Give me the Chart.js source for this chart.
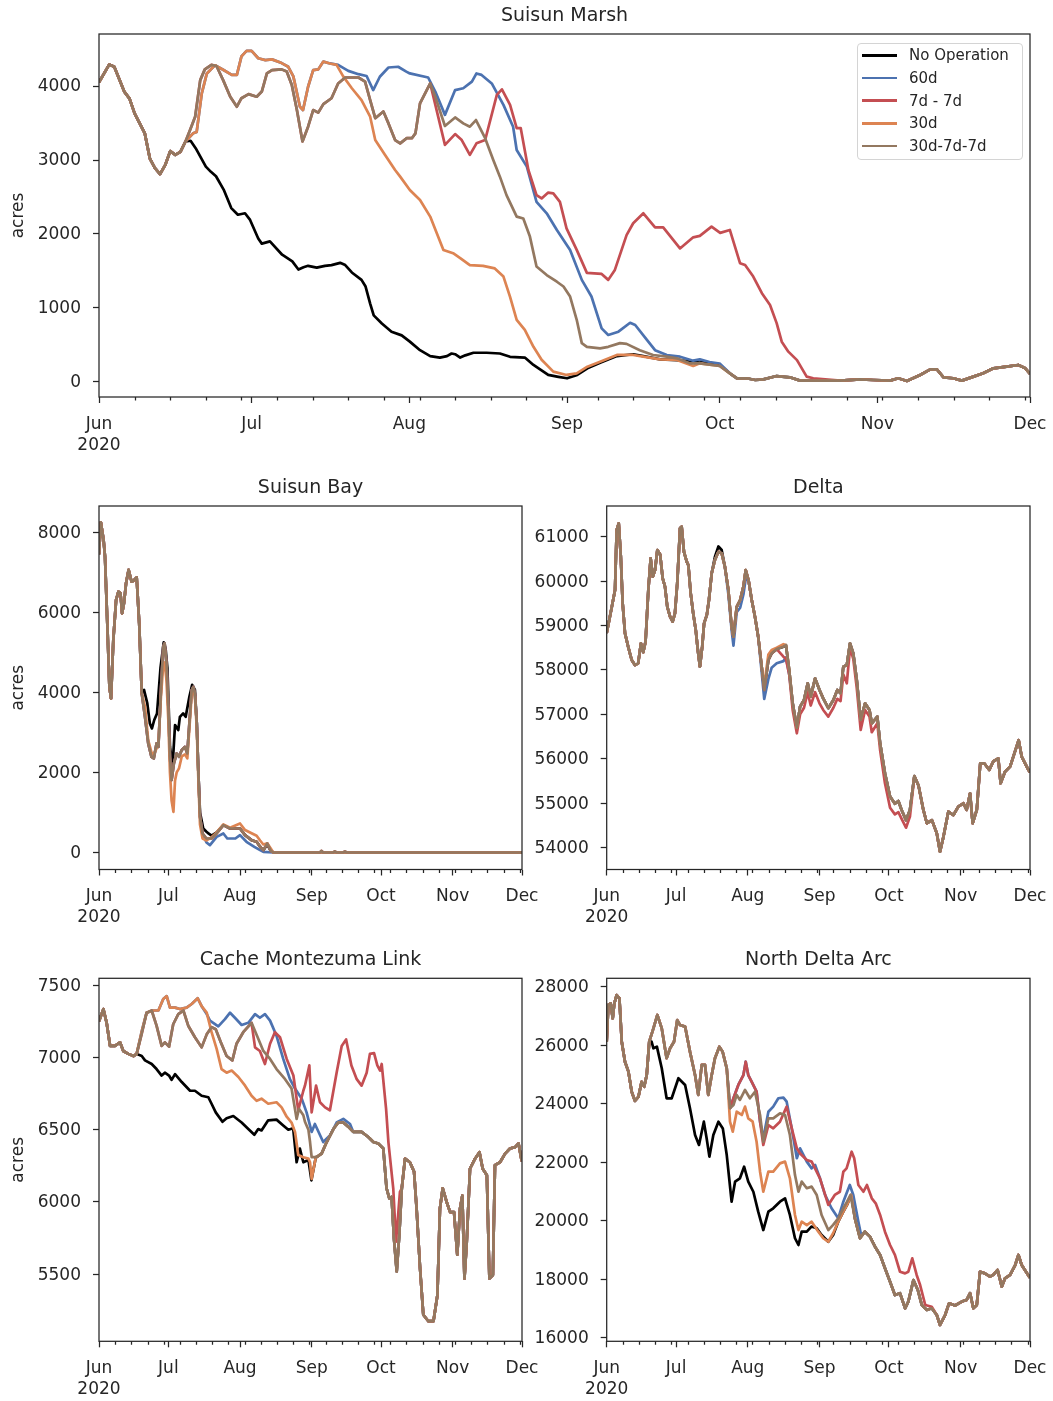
<!DOCTYPE html>
<html lang="en">
<head>
<meta charset="UTF-8">
<title>Habitat area by operation scenario</title>
<script src="https://cdn.jsdelivr.net/npm/chart.js"></script>
<style>
    body { margin: 0; background: #fff; font-family: 'DejaVu Sans', sans-serif; color: #262626; }
    #figure { position: relative; width: 1053px; height: 1401px; overflow: hidden; }
    #figure canvas { position: absolute; }
    #legend {
        position: absolute; left: 857px; top: 43px; width: 166px; height: 117px;
        box-sizing: border-box; border: 1px solid #d4d4d4; border-radius: 4px;
        background: rgba(255, 255, 255, 0.8); font-size: 15px;
    }
    #legend .row { height: 22.7px; display: flex; align-items: center; white-space: nowrap; }
    #legend .swatch { width: 35px; height: 2.7px; margin: 0 12px 0 4px; }
</style>
</head>
<body>
<div id="figure">
    <canvas id="marsh" width="1065" height="462" style="left:0;top:0"></canvas>
    <canvas id="bay" width="557" height="472" style="left:0;top:462px"></canvas>
    <canvas id="delta" width="540" height="472" style="left:525px;top:462px"></canvas>
    <canvas id="cache" width="557" height="467" style="left:0;top:934px"></canvas>
    <canvas id="arc" width="540" height="467" style="left:525px;top:934px"></canvas>
    <div id="legend"></div>
</div>
<script>
    // x = days since 1 Jun 2020
    const seriesNames = ['No Operation', '60d', '7d - 7d', '30d', '30d-7d-7d'];
    const seriesColors = ['#000000', '#4C72B0', '#C44E52', '#DD8452', '#937860'];
    const monthTicks = [0, 30, 61, 92, 122, 153, 183];
    const monthLabels = [['Jun', '2020'], 'Jul', 'Aug', 'Sep', 'Oct', 'Nov', 'Dec'];

    // ---- Suisun Marsh ----
    const marshTicks = [0, 1000, 2000, 3000, 4000];
    const marshHead = [[0,4050],[2,4290],[3,4260],[5,3920],[6,3830],[7,3630],[9,3360],[10,3020],[11,2890],[12,2810],[13,2930],[14,3120],[15,3070],[16,3110],[17,3250]];
    const marshTail = [[124,117],[125.4,50],[127.3,50],[129,27],[130.6,36],[133.2,80],[135.8,63],[137.8,18],[140.4,18],[145.7,18],[149.6,36],[152.2,27],[155.5,18],[157.1,50],[158.8,14],[161.4,95],[163.4,170],[164.7,170],[166,63],[167.9,50],[169.6,18],[171.9,72],[173.8,117],[175.8,185],[178.4,207],[180.7,230],[182,190],[183,110]];
    const marshNoOp = [[18,3260],[19,3160],[21,2910],[22,2840],[23,2780],[24.5,2600],[26,2350],[27.3,2260],[28.7,2280],[29.7,2190],[31.3,1940],[32,1870],[33.6,1900],[36,1720],[38,1630],[39.2,1520],[40.2,1550],[41.1,1570],[42.8,1545],[44.4,1570],[45.7,1580],[47.4,1610],[48.4,1580],[49.7,1480],[51.6,1380],[52.4,1290],[53.3,1060],[54,900],[55.6,790],[57.5,680],[59.5,630],[61.1,545],[63.1,430],[65.1,350],[67,330],[68.4,350],[69.3,385],[70,375],[71,330],[72,360],[73.6,395],[76.2,395],[78.8,385],[80.8,340],[83.7,330],[85.4,230],[86.7,170],[88.3,95],[90.3,70],[92,50],[94,95],[96,185],[98.5,260],[101.8,350],[105,375],[107,350],[110.3,305],[113.6,295],[116.8,275],[118.1,295],[120,250],[122,230]];
    const marsh30d = [[18.5,3360],[19.2,3380],[20.2,3900],[21.2,4170],[22.8,4280],[24.4,4220],[26.1,4150],[27.1,4150],[28,4400],[29,4475],[30,4475],[31.3,4375],[32.7,4350],[34,4360],[35.9,4310],[37.2,4260],[38.2,4130],[39.5,3720],[40.1,3675],[41.1,3990],[42.1,4215],[43.1,4225],[44.1,4330],[45.4,4305],[46.7,4285],[48,4130],[49.7,3970],[51.6,3810],[53.3,3585],[54.3,3270],[56.2,3070],[58.2,2865],[59.2,2775],[61.1,2595],[63.1,2460],[65.1,2235],[66.4,2010],[67.7,1785],[69.6,1740],[71,1675],[72.9,1580],[75.5,1570],[77.8,1535],[79.5,1425],[80.8,1150],[82.1,840],[83.7,705],[85.4,475],[87,300],[89.3,140],[91.9,95],[93.9,117],[96,207],[98.5,275],[101.8,365],[105,365],[107,342],[110.3,306],[113.6,297],[116.8,216],[118.1,252],[122,216]];
    const marsh30d7d7d = [[17.9,3405],[18.9,3585],[19.9,4080],[20.8,4225],[22.1,4285],[23.1,4270],[24.4,4080],[25.8,3855],[27.1,3720],[28,3835],[29.4,3890],[31,3855],[32,3925],[33,4170],[34,4215],[35.9,4225],[36.9,4195],[37.9,4015],[38.9,3675],[40,3250],[41.1,3450],[42.1,3675],[43.1,3640],[44.1,3755],[45.7,3835],[47,4035],[48.4,4115],[51,4115],[52.3,4060],[53.3,3810],[54.3,3565],[55.9,3655],[56.9,3495],[58.2,3270],[59.2,3225],[60.5,3295],[61.5,3295],[62.2,3360],[63.1,3765],[65.1,4035],[66.1,3855],[68,3460],[70,3575],[71.6,3495],[72.9,3450],[74.1,3540],[75.9,3295],[77.5,3000],[78.8,2775],[80.1,2525],[82.1,2235],[83.4,2210],[84.7,1965],[86,1560],[88,1445],[90,1355],[91.3,1290],[92.6,1155],[93.9,840],[94.9,525],[95.9,475],[98.5,455],[100.1,475],[102.4,525],[103.7,515],[106.3,430],[108.9,365],[111.6,342],[113.6,320],[116.1,252],[118.1,252],[122,216]];
    const marsh60d = [[47,4285],[49,4205],[51,4160],[52.6,4135],[53.9,3945],[55.2,4125],[56.9,4250],[58.8,4260],[60.4,4195],[61.1,4170],[64.7,4115],[66.1,3925],[68,3610],[70,3945],[71.6,3970],[73.3,4060],[74.2,4170],[75.2,4150],[77.2,4035],[79.5,3745],[81.4,3450],[82.1,3135],[84.1,2910],[86,2435],[88,2280],[90,2055],[92.6,1785],[94.9,1380],[96.8,1155],[98.8,725],[100.1,635],[102.1,680],[104.4,800],[105.4,770],[107.7,570],[109.3,430],[111.6,365],[114.2,342],[116.8,288],[118.1,306],[120,270],[122,250]];
    const marsh7d7d = [[68,3205],[70,3350],[71.3,3270],[72.9,3070],[74.2,3225],[75.9,3270],[78.2,3880],[79.2,3955],[80.8,3745],[82.1,3430],[82.9,3430],[84.4,2865],[86,2525],[87,2480],[88.3,2560],[89.3,2550],[90.6,2435],[91.9,2075],[93.9,1785],[95.9,1475],[98.8,1460],[100.1,1380],[101.4,1515],[103.7,1985],[105,2145],[107,2280],[109.3,2090],[110.9,2090],[114.2,1805],[116.8,1955],[118.1,1975],[120.4,2100],[122.1,2015],[124,2055],[126,1605],[127,1580],[128.6,1425],[130.3,1200],[131.9,1040],[133.2,795],[134.2,545],[135.5,410],[137.2,295],[139.1,72],[140.4,50]];

    // ---- Suisun Bay ----
    const bayTicks = [0, 2000, 4000, 6000, 8000];
    const bayHead = [[0,7450],[0.8,8250],[2,7800],[2.6,7390],[3.6,5725],[4.5,4140],[5.2,3850],[6.2,5310],[7.4,6310],[8.4,6515],[9.3,6480],[10,5975],[10.8,6225],[11.7,6725],[12.8,7060],[14.1,6765],[14.9,6790],[16.3,6875],[17.4,5725],[18.5,3975]];
    const bay30d7d7d = [[19.9,3390],[21.3,2725],[22.7,2390],[23.7,2350],[24.9,2725],[25.7,2640],[26.8,4060],[27.8,5140],[28.4,5225],[29.2,4725],[30,3640],[30.7,2390],[31.4,1810],[32.4,2225],[33.6,2475],[34.6,2390],[35.8,2560],[37.2,2640],[38.2,2475],[39.1,3225],[40.1,4060],[40.8,4140],[41.5,3975],[42.3,3225],[43,1975],[43.7,890],[44.8,475],[46.5,350],[48.7,350],[50.9,475],[53.8,683],[56.7,600],[61,600],[63.2,433],[66,308],[68.2,267],[69.7,142],[71.1,58],[72.8,225],[74.3,42],[75.4,0],[95.5,0],[96.3,40],[97,0],[101.3,0],[102,30],[102.8,0],[105.6,0],[106.4,25],[107.2,0],[183,0]];
    const bayNoOp = [[19.5,4060],[20.9,3725],[22,3225],[22.9,3100],[23.9,3310],[25.1,3475],[26.6,4610],[28,5250],[28.8,5100],[29.6,4600],[30.7,2650],[31.8,2140],[32.9,3185],[34.3,3060],[35,3390],[36.4,3475],[37.5,3390],[39.1,3890],[40.3,4190],[41.5,4060],[42.3,3225],[43,1975],[43.7,1000],[45.1,600],[46.5,520],[47.5,470],[48.7,420],[50.9,500],[53.8,683],[56.7,600],[61,600],[63.2,433],[66,308],[68.2,267],[69.7,142],[71.1,58],[72.8,200],[74.3,42],[75.4,0],[183,0]];
    const bay30d = [[19.9,3640],[21.3,2800],[22.7,2500],[23.7,2450],[24.9,2600],[25.7,2700],[26.8,3900],[27.8,4700],[28.4,4750],[29.2,4300],[30,3300],[30.7,2000],[31.4,1300],[32.2,1015],[32.9,1800],[33.6,2000],[34.6,2100],[35.8,2400],[37.2,2450],[38.2,2350],[39.1,3100],[40.1,3950],[40.8,4050],[41.5,3900],[42.3,3100],[43,1800],[43.7,700],[44.8,350],[46.5,300],[48.7,380],[50.9,500],[53.8,700],[56.7,620],[61,725],[63.2,560],[66,480],[68.2,420],[69.7,300],[71.1,200],[72.8,230],[74.3,100],[75.4,0],[183,0]];
    const bay60d = [[46.5,250],[48,183],[50.9,390],[53.8,475],[55.5,350],[59,350],[61,433],[63.8,267],[67.2,142],[69.7,58],[71.1,17],[75.4,0],[183,0]];

    // ---- Delta ----
    const deltaTicks = [54000, 55000, 56000, 57000, 58000, 59000, 60000, 61000];
    const delta30d7d7d = [[0,58830],[2.2,59420],[3.6,59800],[4.3,61150],[5.2,61300],[6.1,60550],[6.9,59500],[7.9,58830],[9.3,58520],[10.8,58225],[12.2,58110],[13.6,58150],[14.8,58600],[15.8,58400],[16.8,58640],[18,59800],[19,60510],[19.9,60100],[20.9,60250],[21.9,60700],[23.1,60600],[24.2,60060],[25.2,59875],[26.2,59420],[27.4,59200],[28.5,59090],[29.5,59275],[30.5,59950],[31.7,61190],[32.4,61225],[33.4,60660],[34.6,60440],[35.3,60360],[36.3,59730],[37.4,59275],[38.5,58900],[39.4,58450],[40.3,58075],[41.3,58525],[42.1,59050],[43.3,59240],[44.2,59575],[45.4,60180],[46.8,60475],[48.3,60660],[49.7,60625],[51.1,60325],[52.6,59800],[54,58975],[54.8,58750],[56.2,59420],[57.7,59575],[59.1,59875],[60.1,60250],[61.3,60025],[62.7,59575],[64.1,59200],[65.5,58750],[67,58075],[68.1,57550],[69.9,58225],[71.3,58375],[73.5,58470],[76.4,58525],[77.5,58560],[78.9,58000],[80.4,57250],[82.2,56700],[83.6,57175],[85.3,57325],[86.9,57700],[88.2,57400],[90.1,57810],[92,57550],[93.6,57360],[95.8,57140],[98,57325],[99.7,57550],[101.1,57475],[102.3,58075],[103.8,58110],[105.2,58600],[106.6,58375],[108.1,57775],[109.8,56875],[111.7,57250],[113.6,57100],[114.6,56800],[117,56950],[118.2,56350],[120.3,55675],[122.5,55150],[124.6,54990],[126.1,55050],[127.5,54850],[129.4,54620],[131.1,54850],[133,55610],[134.8,55400],[136.9,54850],[138.4,54550],[140.6,54620],[142.7,54325],[144.1,53910],[145.6,54250],[147.7,54810],[149.9,54735],[152,54925],[154.2,55000],[155.6,54850],[157.1,55225],[158.2,54550],[160,54850],[161.5,55900],[163.2,55900],[165.4,55750],[167.1,55940],[169.3,56010],[170.3,55450],[172.2,55710],[174.4,55825],[175.8,56050],[178.1,56420],[179.4,56050],[182.3,55750],[183,55700]];
    const deltaNoOpPeak = [[46.8,60550],[48.3,60780],[49.7,60700]];
    const delta60dDipA = [[52.6,59700],[54,58900],[54.8,58550],[56.2,59300],[57.7,59400],[59.1,59700],[60.1,60050]];
    const delta60dDipB = [[67,57950],[68.1,57350],[69.9,57800],[71.3,58050],[73.5,58150],[76.4,58200],[77.5,58280],[78.9,57900]];
    const delta7d7dDip = [[76.4,58300],[77.5,58250],[78.9,57900],[80.4,57100],[82.2,56575],[83.6,57000],[85.3,57150],[86.9,57500],[88.2,57200],[90.1,57500],[92,57250],[93.6,57100],[95.8,56950],[98,57150],[99.7,57350],[101.1,57300],[102.3,57900],[103.8,57700],[105.2,58500],[106.6,58250],[108.1,57600],[109.8,56650],[111.7,57100],[113.6,56950],[114.6,56600],[117,56800],[118.2,56200],[120.3,55450],[122.5,54900],[124.6,54750],[126.1,54800],[127.5,54650],[129.4,54450],[131.1,54700],[133,55600]];
    const delta30dBump = [[68.1,57650],[69.9,58350],[71.3,58450],[73.5,58500],[76.4,58580]];

    // ---- Cache Montezuma Link ----
    const cacheTicks = [5500, 6000, 6500, 7000, 7500];
    const cacheHead = [[0,7250],[1.9,7335],[3.3,7240],[4.8,7080],[6.9,7080],[9.1,7105],[10.5,7045],[12.7,7025],[14.9,7010],[16.3,7025]];
    const cacheTail = [[94.1,6310],[96.3,6335],[98.5,6415],[101.4,6505],[103.5,6550],[105.7,6550],[107.9,6520],[110,6485],[113.6,6485],[116.5,6450],[118.7,6415],[120.8,6405],[123,6370],[124.4,6095],[125.6,6025],[126.6,6035],[127.6,5750],[128.8,5520],[129.9,5770],[131,6095],[132.4,6300],[134.5,6275],[136.3,6210],[137.4,5955],[138.9,5540],[140.3,5220],[142.5,5175],[144.7,5175],[146.4,5355],[147.5,5955],[148.7,6095],[150.4,6000],[151.9,5930],[153.6,5930],[155,5635],[156.2,5955],[157.2,6045],[158.1,5470],[159.1,5725],[160.5,6230],[162.7,6300],[164.6,6345],[166,6230],[167.8,6185],[168.9,5470],[170.4,5495],[171.3,6255],[173.5,6275],[175.7,6335],[177.8,6370],[180,6380],[181.5,6405],[182.7,6300],[183,6280]];
    const cacheNoOp = [[18.5,7010],[19.9,6980],[22.8,6955],[24.9,6920],[27.1,6875],[28.5,6895],[30.3,6875],[31.4,6845],[32.9,6885],[35.8,6830],[39.4,6770],[41.5,6770],[44.4,6735],[47.3,6725],[48.7,6680],[50.5,6620],[53.4,6555],[55.2,6580],[58.1,6595],[61.7,6550],[64.6,6505],[67.2,6465],[68.9,6505],[70.3,6495],[73.2,6565],[76.8,6570],[79.7,6530],[81.9,6500],[84,6510],[85.5,6275],[86.9,6370],[88.4,6275],[90.6,6290],[91.9,6150],[93.8,6310]];
    const cache30d7d7d = [[17,7070],[18.4,7160],[20.6,7310],[22.8,7325],[24.9,7220],[27.1,7080],[28.5,7105],[30.3,7075],[32.1,7230],[34.3,7300],[36.5,7325],[38.6,7220],[41.5,7140],[44.4,7070],[46.6,7160],[48.7,7210],[50.5,7195],[52.7,7105],[55.2,7010],[57.7,6980],[59.5,7095],[62.4,7175],[66,7240],[68.9,7130],[71.1,7045],[74,6990],[76.8,6920],[80.5,6850],[83.3,6785],[85.5,6575],[86.5,6645],[88.4,6600],[89.1,6555],[90.6,6500],[91.3,6415],[92,6310]];
    const cache30d = [[18.4,7175],[20.6,7310],[23.5,7325],[25.7,7325],[27.8,7405],[29.3,7425],[30.7,7345],[32.9,7345],[35,7335],[37.9,7345],[40.1,7370],[42.7,7410],[44.4,7355],[46.6,7310],[48.7,7175],[50.9,7060],[53,6920],[55.2,6895],[57.4,6910],[60.3,6865],[63.2,6805],[66,6735],[68.2,6700],[70.3,6715],[73.2,6680],[76.8,6690],[79,6655],[81.2,6590],[83.3,6550],[84.8,6485],[86.2,6325],[88.4,6310],[90.6,6300],[91.3,6275],[92,6160],[93.8,6310]];
    const cache60d = [[46.6,7300],[48,7255],[51.6,7215],[54.5,7265],[56.7,7310],[58.8,7275],[61.7,7225],[64.6,7240],[67.5,7300],[69.6,7275],[71.8,7300],[74,7255],[76.8,7150],[79.7,6990],[82.6,6850],[84.8,6785],[87.7,6715],[89.8,6620],[92,6485],[93.4,6540],[97,6415],[99.9,6460],[102.8,6550],[105.7,6575],[108.6,6540]];
    const cache7d7d = [[67.5,7070],[69.6,7045],[71.8,6955],[74,7095],[76.1,7175],[78.3,7140],[81.2,6990],[84.1,6875],[86.2,6635],[88.4,6770],[89.1,6805],[91,6945],[92,6620],[93.9,6805],[95.6,6690],[97.8,6655],[99.9,6635],[102.8,6895],[105,7080],[106.9,7125],[109.2,6945],[111.5,6850],[113.6,6805],[115.8,6895],[117.2,7025],[119,7030],[120.4,6945],[121.6,6910],[122.3,6955],[124.2,6645],[125.2,6415],[127.3,6095],[128.5,5725],[130.2,6070]];

    // ---- North Delta Arc ----
    const arcTicks = [16000, 18000, 20000, 22000, 24000, 26000, 28000];
    const arcHead = [[0,26120],[0.7,27375],[1.7,27430],[2.6,26920],[3.3,27430],[4.3,27715],[5.5,27600],[6.5,26120],[7.9,25435],[9.4,25095],[10.8,24410],[12.2,24095],[13.7,24230],[15.1,24750],[16.2,24580],[17.3,24980],[18.4,26120]];
    const arcTail = [[107.3,20080],[109.5,19400],[111.6,19625],[113.8,19455],[116,19110],[118.2,18830],[120.3,18375],[122.5,17915],[124.6,17460],[126.8,17520],[129,17005],[130.4,17235],[132.6,17970],[134.5,17630],[136.2,17120],[138.4,16950],[140.5,17005],[142.7,16775],[144.1,16435],[146.3,16775],[148,17175],[150.6,17100],[153.5,17235],[155.6,17290],[157.1,17520],[158.5,17005],[160,17120],[161.4,18255],[163.5,18200],[165.7,18090],[167.1,18150],[169,18315],[170.8,17745],[172.2,18030],[174.4,18145],[176.6,18485],[178,18830],[179.4,18485],[182.6,18090],[183,18050]];
    const arcNoOp = [[19.4,26120],[20.2,25895],[21.7,25950],[23.8,25210],[25.9,24185],[28.1,24185],[31,24870],[33.9,24640],[36,23845],[38.2,22930],[39.9,22590],[42,23385],[43.2,22820],[44.4,22190],[46.1,22930],[48.3,23385],[50.2,23155],[51.9,22245],[54,20650],[55.5,21335],[57.6,21450],[59.4,21845],[61.2,21335],[63.4,20990],[65.5,20310],[67.7,19680],[69.9,20310],[72,20425],[74.9,20650],[77.1,20765],[79.2,20195],[81.4,19400],[82.9,19170],[84.3,19625],[86.5,19625],[88.5,19800],[90.8,19740],[92.9,19510],[95.8,19280],[97.9,19510],[100.1,19965],[102.3,20310],[103.9,20540],[105.7,20880]];
    const arc30d7d7d = [[20.2,26575],[21.9,27035],[23.8,26575],[25.9,25555],[27.4,25895],[29.1,26120],[30.5,26860],[31.7,26690],[33.9,26635],[36,25780],[38.2,24980],[39.6,24300],[41.1,25325],[42.5,25325],[43.9,24300],[45.4,24980],[46.8,25555],[48.7,25950],[50.1,25780],[51.9,25210],[53.3,23845],[54.8,23955],[56.2,24300],[57.6,24130],[59.8,24470],[61.9,24185],[64.1,24410],[66.3,23615],[67.7,22700],[69.9,23500],[72,23500],[74.9,23670],[77.1,23615],[79.2,22930],[81.4,21560],[82.9,20990],[84.3,21335],[86.5,21110],[88.6,21165],[90.8,20880],[92.9,20195],[95.8,19680],[97.9,19855],[100.1,20080],[102.3,20425],[103.9,20650],[105.4,20880]];
    const arc30d = [[53.3,23385],[54.5,23045],[56.2,23725],[58.4,23615],[59.8,23900],[61.2,23500],[63.1,23385],[64.8,22700],[66.3,21675],[67.7,20990],[69.9,21675],[72,21675],[74.9,21960],[77.1,22020],[79.2,21450],[81.4,20195],[82.9,19680],[84.3,19965],[86.5,19850],[88.6,19965],[91.5,19625],[93.6,19400],[95.8,19280],[97.9,19570],[100.1,19965],[102.3,20310],[103.9,20540],[105.7,20880]];
    const arc60d = [[54.8,24185],[56.9,24640],[59.1,24980],[60.1,25435],[61.2,24980],[62.7,24750],[64.8,24410],[66.3,23385],[67.7,22820],[69.9,23725],[72,23900],[74.2,24185],[76.4,24210],[77.8,24070],[80,23155],[82.2,22135],[83.6,22475],[86.5,22020],[88.6,21790],[90.1,21905],[92.2,21450],[94.4,20880],[97.2,20425],[100.1,20080],[102.3,20650],[103.7,20935],[105.1,21220],[106.6,20880],[108.8,19965],[110,19500]];
    const arc7d7d = [[66.3,23385],[67.7,22590],[69.9,23270],[72,23160],[74.9,23385],[77.8,23900],[80,23155],[82.2,22475],[83.6,22300],[86.5,22075],[88.6,22020],[92.2,21450],[95.8,20540],[98.6,20880],[100.8,20990],[102.3,21675],[103.7,21790],[105.9,22360],[107,22135],[108.8,21220],[111,20990],[112.5,21220],[114.6,20765],[116.3,20595],[118.2,20195],[120.3,19625],[122.5,19170],[124.6,18830],[126.8,18255],[129,18200],[130.4,18255],[132.1,18715],[134,18145],[135.5,17800],[137.7,17120],[140.5,17060]];

    // helpers to stitch the shared stretches together
    const upTo = (pts, d) => pts.filter(p => p[0] <= d);
    const from = (pts, d) => pts.filter(p => p[0] >= d);
    function patch(base, seg) {
        const a = seg[0][0], b = seg[seg.length - 1][0];
        return [...base.filter(p => p[0] < a), ...seg, ...base.filter(p => p[0] > b)];
    }

    const marshLines = [
        [...marshHead, ...marshNoOp, ...marshTail],
        [...marshHead, ...upTo(marsh30d, 45.4), ...marsh60d, ...marshTail],
        [...marshHead, ...upTo(marsh30d7d7d, 65.1), ...marsh7d7d, ...from(marshTail, 141)],
        [...marshHead, ...marsh30d, ...marshTail],
        [...marshHead, ...marsh30d7d7d, ...marshTail]
    ];
    const bayLines = [
        [...bayHead, ...bayNoOp],
        [...bayHead, ...upTo(bay30d7d7d, 44.8), ...bay60d],
        [...bayHead, ...bay30d7d7d],
        [...bayHead, ...bay30d],
        [...bayHead, ...bay30d7d7d]
    ];
    const deltaLines = [
        patch(delta30d7d7d, deltaNoOpPeak),
        patch(patch(delta30d7d7d, delta60dDipA), delta60dDipB),
        patch(delta30d7d7d, delta7d7dDip),
        patch(delta30d7d7d, delta30dBump),
        delta30d7d7d
    ];
    const cacheLines = [
        [...cacheHead, ...cacheNoOp, ...cacheTail],
        [...cacheHead, ...upTo(cache30d, 44.4), ...cache60d, ...from(cacheTail, 109)],
        [...cacheHead, ...upTo(cache30d7d7d, 66), ...cache7d7d, ...from(cacheTail, 131)],
        [...cacheHead, ...cache30d, ...cacheTail],
        [...cacheHead, ...cache30d7d7d, ...cacheTail]
    ];
    const arcLines = [
        [...arcHead, ...arcNoOp, ...arcTail],
        [...arcHead, ...upTo(arc30d7d7d, 53.3), ...arc60d, ...from(arcTail, 111)],
        [...arcHead, ...upTo(arc30d7d7d, 53.3), ...upTo(arc60d, 64.8), ...arc7d7d, ...from(arcTail, 141)],
        [...arcHead, ...upTo(arc30d7d7d, 51.9), ...arc30d, ...arcTail],
        [...arcHead, ...arc30d7d7d, ...arcTail]
    ];

    const ink = '#262626';
    Chart.defaults.font.family = "'DejaVu Sans', sans-serif";
    Chart.defaults.color = ink;

    // full box around the plot plus weekly minor ticks on the date axis
    const frame = {
        id: 'frame',
        afterDraw(chart) {
            const { ctx, chartArea: a } = chart;
            const x = chart.scales.x;
            ctx.save();
            ctx.strokeStyle = ink;
            ctx.lineWidth = 1.25;
            ctx.beginPath();
            for (let d = 7; d < 183; d += 7) {
                const px = Math.round(x.getPixelForValue(d)) + 0.5;
                ctx.moveTo(px, a.bottom);
                ctx.lineTo(px, a.bottom + 3.5);
            }
            ctx.stroke();
            ctx.strokeRect(a.left, a.top, a.right - a.left, a.bottom - a.top);
            ctx.restore();
        }
    };

    function makePanel(id, title, lines, yTicks, yMin, yMax, area, yTitle) {
        const canvas = document.getElementById(id);
        const W = canvas.width, H = canvas.height;
        const titleSize = 19, titleGap = 6.6;
        return new Chart(canvas, {
            type: 'line',
            data: {
                datasets: lines.map((pts, i) => ({
                    label: seriesNames[i],
                    data: pts.map(([d, v]) => ({ x: d, y: v })),
                    borderColor: seriesColors[i],
                    backgroundColor: seriesColors[i],
                    borderWidth: 2.7,
                    borderJoinStyle: 'round',
                    pointRadius: 0,
                    tension: 0,
                    order: lines.length - 1 - i
                }))
            },
            options: {
                responsive: false,
                animation: false,
                devicePixelRatio: 1,
                layout: { padding: { left: 0, top: 0, bottom: 0, right: W - area.right } },
                plugins: {
                    legend: { display: false },
                    tooltip: { enabled: false },
                    title: {
                        display: true, text: title, fullSize: false, color: ink,
                        font: { size: titleSize, weight: 'normal', lineHeight: 1.2 },
                        padding: { top: area.top - titleSize * 1.2 - titleGap, bottom: titleGap }
                    }
                },
                scales: {
                    x: {
                        type: 'linear', min: 0, max: 183,
                        afterBuildTicks: s => { s.ticks = monthTicks.map(v => ({ value: v })); },
                        afterFit: s => { s.height = H - area.bottom; },
                        grid: { drawOnChartArea: false, drawTicks: true, tickLength: 6, tickWidth: 1.25, tickColor: ink },
                        border: { display: false },
                        ticks: {
                            color: ink, font: { size: 17, lineHeight: 1.23 }, padding: 11,
                            maxRotation: 0, autoSkip: false,
                            callback: v => monthLabels[monthTicks.indexOf(v)]
                        }
                    },
                    y: {
                        min: yMin, max: yMax,
                        afterBuildTicks: s => { s.ticks = yTicks.map(v => ({ value: v })); },
                        afterFit: s => { s.width = area.left; },
                        grid: { drawOnChartArea: false, drawTicks: true, tickLength: 6, tickWidth: 1.25, tickColor: ink },
                        border: { display: false },
                        ticks: { color: ink, font: { size: 17 }, padding: 12, labelOffset: 1, callback: v => String(v) },
                        title: {
                            display: !!yTitle, text: yTitle || '', color: ink,
                            font: { size: 17 }, padding: { top: 8, bottom: 0 }
                        }
                    }
                }
            },
            plugins: [frame]
        });
    }

    // chart areas in canvas pixels; the right margin is wide enough for the "Dec" label
    makePanel('marsh', 'Suisun Marsh', marshLines, marshTicks, -203, 4703,
        { left: 99, top: 34, right: 1030, bottom: 397 }, 'acres');
    makePanel('bay', 'Suisun Bay', bayLines, bayTicks, -425, 8657,
        { left: 99, top: 44, right: 522, bottom: 407.5 }, 'acres');
    makePanel('delta', 'Delta', deltaLines, deltaTicks, 53509, 61691,
        { left: 81.7, top: 44, right: 505, bottom: 407.5 });
    makePanel('cache', 'Cache Montezuma Link', cacheLines, cacheTicks, 5036, 7548,
        { left: 99, top: 44.3, right: 522, bottom: 407.3 }, 'acres');
    makePanel('arc', 'North Delta Arc', arcLines, arcTicks, 15877, 28287,
        { left: 81.7, top: 44.3, right: 505, bottom: 407.3 });

    // legend of the top panel
    const legend = document.getElementById('legend');
    seriesNames.forEach((name, i) => {
        const row = document.createElement('div');
        row.className = 'row';
        row.innerHTML = `<span class="swatch" style="background:${seriesColors[i]}"></span>${name}`;
        legend.appendChild(row);
    });
</script>
</body>
</html>
